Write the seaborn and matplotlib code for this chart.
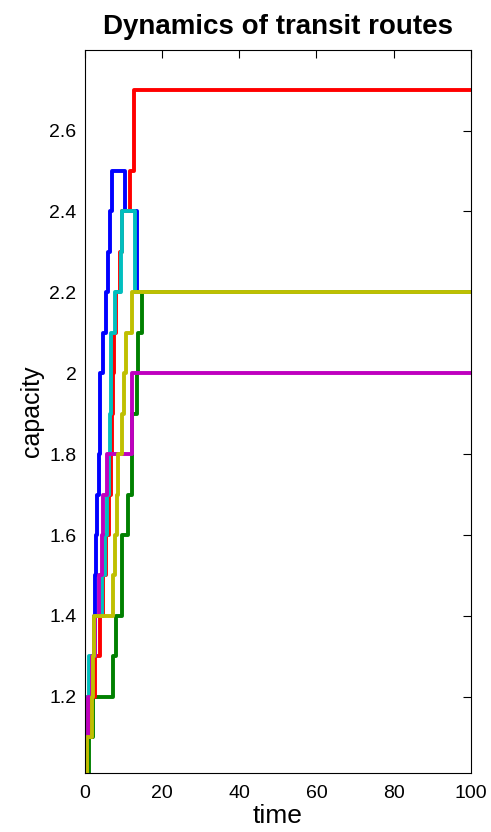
import matplotlib
matplotlib.use("Agg")
import matplotlib.pyplot as plt
import seaborn as sns
import pandas as pd

# step change times and the value held from each time on
blue_t = [0, 0.4, 1.0, 1.9, 2.3, 2.6, 2.9, 3.2, 3.6, 3.9, 4.6, 5.4, 6.0, 6.4, 6.9, 10.4, 13.4]
blue_v = [1.0, 1.1, 1.2, 1.3, 1.4, 1.5, 1.6, 1.7, 1.8, 2.0, 2.1, 2.2, 2.3, 2.4, 2.5, 2.4, 2.2]

green_t = [0, 1.0, 2.0, 7.3, 8.0, 9.6, 11.1, 12.3, 13.4, 13.8, 14.9]
green_v = [1.0, 1.1, 1.2, 1.3, 1.4, 1.6, 1.7, 1.9, 2.0, 2.1, 2.2]

red_t = [0, 0.5, 1.5, 2.5, 4.0, 4.8, 5.5, 6.2, 6.7, 7.0, 7.3, 7.6, 8.0, 9.0, 9.7, 11.6, 12.8]
red_v = [1.0, 1.1, 1.2, 1.3, 1.4, 1.5, 1.6, 1.7, 1.8, 1.9, 2.0, 2.1, 2.2, 2.3, 2.4, 2.5, 2.7]

cyan_t = [0, 0.05, 1.0, 2.5, 4.5, 5.3, 5.6, 6.2, 6.5, 6.8, 7.9, 9.3, 9.7, 13.0]
cyan_v = [1.1, 1.2, 1.3, 1.4, 1.5, 1.6, 1.7, 1.8, 1.9, 2.1, 2.2, 2.3, 2.4, 2.2]

magenta_t = [0, 0.1, 0.9, 1.9, 2.6, 3.6, 4.3, 4.6, 5.6, 12.2]
magenta_v = [1.0, 1.1, 1.2, 1.3, 1.4, 1.5, 1.6, 1.7, 1.8, 2.0]

yellow_t = [0, 0.6, 1.7, 2.0, 2.3, 7.3, 7.8, 8.2, 8.6, 9.5, 10.0, 10.7, 12.3]
yellow_v = [1.0, 1.1, 1.2, 1.3, 1.4, 1.5, 1.6, 1.7, 1.8, 1.9, 2.0, 2.1, 2.2]

t_end = 100
series_names = ["blue", "green", "red", "cyan", "magenta", "yellow"]
colors = ["#0000ff", "#008000", "#ff0000", "#00bfbf", "#bf00bf", "#bfbf00"]
x_ticks = [0, 20, 40, 60, 80, 100]
y_ticks = [1.2, 1.4, 1.6, 1.8, 2.0, 2.2, 2.4, 2.6]
y_tick_labels = ["1.2", "1.4", "1.6", "1.8", "2", "2.2", "2.4", "2.6"]

all_t = [blue_t, green_t, red_t, cyan_t, magenta_t, yellow_t]
all_v = [blue_v, green_v, red_v, cyan_v, magenta_v, yellow_v]

rows = []
for name, ts, vs in zip(series_names, all_t, all_v):
    for t, v in zip(ts, vs):
        rows.append({"time": t, "capacity": v, "route": name})
    rows.append({"time": t_end, "capacity": vs[-1], "route": name})
df = pd.DataFrame(rows)

sns.set_style("white")
plt.rcParams["font.family"] = ["Liberation Sans", "DejaVu Sans"]
plt.rcParams["text.color"] = "black"
plt.rcParams["axes.labelcolor"] = "black"
plt.rcParams["xtick.color"] = "black"
plt.rcParams["ytick.color"] = "black"

fig = plt.figure(figsize=(4.91, 8.32), dpi=100)
ax = fig.add_axes([0.173, 0.0713, 0.786, 0.869])

sns.lineplot(data=df, x="time", y="capacity", hue="route", hue_order=series_names,
             palette=colors, estimator=None, sort=False, legend=False,
             drawstyle="steps-post", linewidth=2.8, ax=ax)

ax.set_xlim(0, 100)
ax.set_ylim(1.0125, 2.8)
ax.set_xticks(x_ticks)
ax.set_xticklabels([str(v) for v in x_ticks])
ax.set_yticks(y_ticks)
ax.set_yticklabels(y_tick_labels)
ax.tick_params(direction="in", top=True, right=True, length=6, width=0.8,
               labelsize=14, colors="black")
ax.tick_params(axis="x", pad=9)
ax.tick_params(axis="y", pad=6)
for s in ax.spines.values():
    s.set_visible(True)
    s.set_color("black")
    s.set_linewidth(0.8)

ax.set_xlabel("time", fontsize=19, labelpad=1, color="black")
ax.set_ylabel("capacity", fontsize=18, labelpad=4, color="black")
ax.set_title("Dynamics of transit routes", fontsize=20, fontweight="bold",
             pad=11, color="black")

fig.savefig("out.png", dpi=100)
